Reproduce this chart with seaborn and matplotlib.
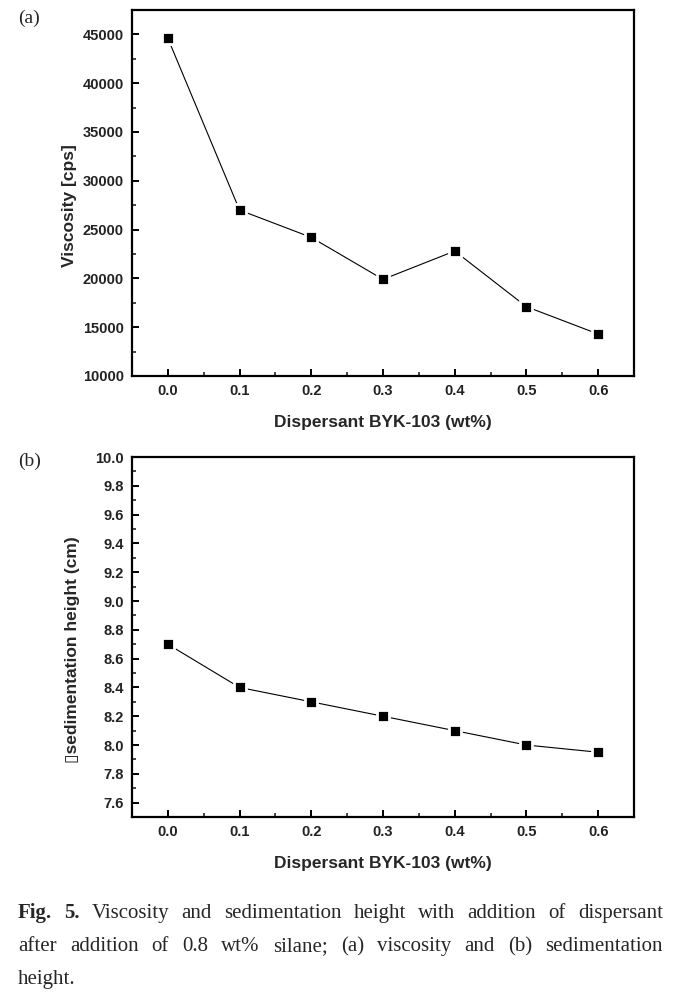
import numpy as np
import pandas as pd
import seaborn as sns
import matplotlib.pyplot as plt
from matplotlib.ticker import MultipleLocator

# values
dispersant = [0.0, 0.1, 0.2, 0.3, 0.4, 0.5, 0.6]
viscosity = [44600, 27000, 24200, 19900, 22800, 17100, 14300]
sed_height = [8.70, 8.40, 8.30, 8.20, 8.10, 8.00, 7.95]

xlabel = 'Dispersant BYK-103 (wt%)'
ylabel_a = 'Viscosity [cps]'
ylabel_b = '\u25afsedimentation height (cm)'
caption = [
    ['Fig.', '5.', 'Viscosity', 'and', 'sedimentation', 'height', 'with', 'addition', 'of', 'dispersant'],
    ['after', 'addition', 'of', '0.8', 'wt%', 'silane;', '(a)', 'viscosity', 'and', '(b)', 'sedimentation'],
    ['height.'],
]

sns.set_style("ticks")
plt.rcParams['font.family'] = ['Liberation Sans', 'DejaVu Sans']

fig = plt.figure(figsize=(6.79, 10.01), dpi=100)
ax_a = fig.add_axes([0.1944, 0.6244, 0.7393, 0.3656])
ax_b = fig.add_axes([0.1944, 0.1838, 0.7393, 0.3596])

df = pd.DataFrame({'x': dispersant, 'visc': viscosity, 'sed': sed_height})


def style_axis(ax, ylab, ymin, ymax, major, minor, fmt, ylab_pos):
    ax.set_xlim(-0.05, 0.65)
    ax.set_ylim(ymin, ymax)
    ax.xaxis.set_major_locator(MultipleLocator(0.1))
    ax.xaxis.set_minor_locator(MultipleLocator(0.05))
    ax.yaxis.set_major_locator(MultipleLocator(major))
    ax.yaxis.set_minor_locator(MultipleLocator(minor))
    ax.xaxis.set_major_formatter(plt.FormatStrFormatter('%.1f'))
    ax.yaxis.set_major_formatter(plt.FormatStrFormatter(fmt))
    for s in ax.spines.values():
        s.set_visible(True)
        s.set_linewidth(1.6)
        s.set_color('black')
    ax.tick_params(which='major', direction='in', length=5, width=1.4,
                   labelsize=10.5, colors='black', labelcolor='#222222', pad=6)
    ax.tick_params(which='minor', direction='in', length=3, width=1.2)
    for lab in ax.get_xticklabels() + ax.get_yticklabels():
        lab.set_fontweight('bold')
    ax.set_xlabel(xlabel, fontsize=12.5, fontweight='bold', labelpad=12)
    ax.set_ylabel(ylab, fontsize=12.5, fontweight='bold')
    ax.yaxis.set_label_coords(*ylab_pos)
    ax.grid(False)


for ax, col in [(ax_a, 'visc'), (ax_b, 'sed')]:
    sns.lineplot(data=df, x='x', y=col, ax=ax, color='black', linewidth=0.8,
                 marker='s', markersize=8.5, markerfacecolor='black',
                 markeredgecolor='white', markeredgewidth=2.0)

style_axis(ax_a, ylabel_a, 10000, 47500, 5000, 2500, '%d', (-0.110, 0.467))
style_axis(ax_b, ylabel_b, 7.5, 10.0, 0.2, 0.1, '%.1f', (-0.104, 0.464))

fig.text(18 / 679, 1 - 18 / 1001, '(a)', family='Liberation Serif', fontsize=14, va='center')
fig.text(18 / 679, 1 - 461 / 1001, '(b)', family='Liberation Serif', fontsize=14, va='center')

# justified caption
fig.canvas.draw()
renderer = fig.canvas.get_renderer()
left, right = 18, 663
line_base = [918, 951, 984]
for i, words in enumerate(caption):
    texts = []
    for j, w in enumerate(words):
        bold = i == 0 and j < 2
        t = fig.text(0, 1 - line_base[i] / 1001, w, family='Liberation Serif', fontsize=15,
                     fontweight='bold' if bold else 'normal', va='baseline')
        texts.append(t)
    widths = [t.get_window_extent(renderer).width for t in texts]
    if len(words) > 1:
        gap = (right - left - sum(widths)) / (len(words) - 1)
    else:
        gap = 0
    x = left
    for t, w in zip(texts, widths):
        t.set_x(x / 679)
        x += w + gap

fig.savefig('out.png', dpi=100)
